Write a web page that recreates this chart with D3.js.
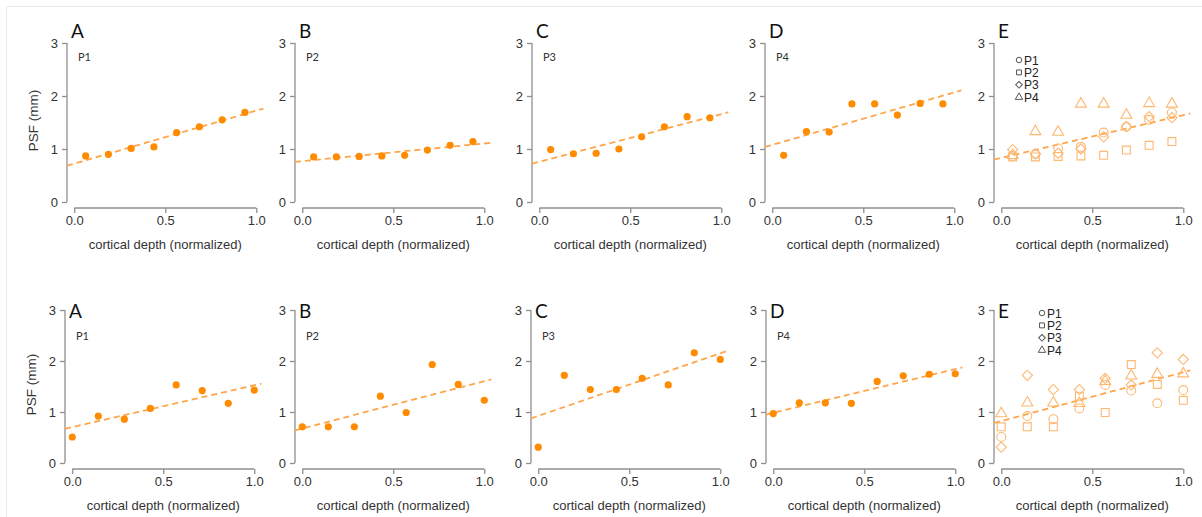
<!DOCTYPE html>
<html>
<head>
<meta charset="utf-8">
<script src="https://cdn.jsdelivr.net/npm/d3@7"></script>
<style>
  body { margin: 0; background: #fff; }
  svg { display: block; }
</style>
</head>
<body>
<div id="chart"></div>
<script>
// data
var panelLetters = ["A", "B", "C", "D", "E"];
var participants = ["P1", "P2", "P3", "P4"];

var depthTop = [0.0625, 0.1875, 0.3125, 0.4375, 0.5625, 0.6875, 0.8125, 0.9375];
var topP1 = [0.87, 0.90, 1.01, 1.04, 1.31, 1.42, 1.55, 1.69];
var topP2 = [0.85, 0.85, 0.86, 0.87, 0.88, 0.98, 1.07, 1.14];
var topP3 = [0.99, 0.91, 0.92, 1.00, 1.23, 1.42, 1.61, 1.59];
var topP4 = [0.88, 1.33, 1.32, 1.85, 1.85, 1.64, 1.86, 1.85];

var depthBottom = [0, 0.143, 0.286, 0.429, 0.571, 0.714, 0.857, 1.0];
var bottomP1 = [0.51, 0.92, 0.86, 1.07, 1.53, 1.42, 1.17, 1.43];
var bottomP2 = [0.71, 0.71, 0.71, 1.31, 0.99, 1.93, 1.54, 1.23];
var bottomP3 = [0.31, 1.72, 1.44, 1.44, 1.66, 1.53, 2.16, 2.03];
var bottomP4 = [0.97, 1.18, 1.18, 1.17, 1.60, 1.71, 1.74, 1.75];

var yTicks = [0, 1, 2, 3];
var xTicks = [0, 0.5, 1.0];

// layout
var W = 1202, H = 517;
var rows = [
  { depth: depthTop, series: [topP1, topP2, topP3, topP4],
    axisX: [67, 295, 532, 765, 994], yTop: 43, yZero: 202, xAxisY: 208,
    letterY: 38, pY: 61, legendX: 1019, legendY: 60 },
  { depth: depthBottom, series: [bottomP1, bottomP2, bottomP3, bottomP4],
    axisX: [65, 295, 531, 766, 994], yTop: 310, yZero: 463, xAxisY: 469,
    letterY: 318, pY: 340, legendX: 1042, legendY: 313 }
];
var plotW = 182;

var dotColor = "#ff8c00";
var lineColor = "#ffa54a";
var openColor = "#fdb872";
var axisColor = "#8f8f8f";
var textColor = "#333";

var svg = d3.select("#chart").append("svg")
  .attr("width", W)
  .attr("height", H);

svg.append("rect")
  .attr("width", W).attr("height", H)
  .attr("fill", "#fff");

svg.append("rect")
  .attr("x", 6.5).attr("y", 6.5)
  .attr("width", W + 20).attr("height", H + 20)
  .attr("fill", "none")
  .attr("stroke", "#ebebeb");

var shapes = [
  function(s) { return d3.symbol().type(d3.symbolCircle).size(s)(); },
  function(s) { return d3.symbol().type(d3.symbolSquare).size(s)(); },
  function(s) { return d3.symbol().type(d3.symbolSquare).size(s)(); },
  function(s) { return d3.symbol().type(d3.symbolTriangle).size(s)(); }
];
var shapeRot = [0, 0, 45, 0];
var shapeSize = [62, 62, 52, 52];
var legendSize = [24, 24, 22, 24];

function fit(xs, ys) {
  var mx = d3.mean(xs), my = d3.mean(ys);
  var sxy = 0, sxx = 0;
  xs.forEach(function(x, i) {
    sxy += (x - mx) * (ys[i] - my);
    sxx += (x - mx) * (x - mx);
  });
  var b = sxy / sxx;
  return { a: my - b * mx, b: b };
}

rows.forEach(function(row, r) {
  panelLetters.forEach(function(letter, c) {
    var ax = row.axisX[c];
    var x = d3.scaleLinear().domain([-0.04, 1.04]).range([ax, ax + plotW * 1.08]);
    var y = d3.scaleLinear().domain([0, 3]).range([row.yZero, row.yTop]);
    var g = svg.append("g");

    // y axis
    var yAxis = g.append("g")
      .attr("transform", "translate(" + ax + ",0)")
      .call(d3.axisLeft(y).tickValues(yTicks).tickSize(5).tickPadding(4).tickFormat(d3.format("d")));
    // x axis
    var xAxis = g.append("g")
      .attr("transform", "translate(0," + row.xAxisY + ")")
      .call(d3.axisBottom(x).tickValues(xTicks).tickSize(5).tickPadding(3).tickFormat(d3.format(".1f")));
    [yAxis, xAxis].forEach(function(a) {
      a.select(".domain").attr("stroke", axisColor).attr("stroke-width", 1.3);
      a.selectAll(".tick line").attr("stroke", axisColor).attr("stroke-width", 1.3);
      a.selectAll(".tick text")
        .attr("fill", textColor)
        .style("font-family", "Liberation Sans, Arial, sans-serif")
        .style("font-size", "13px");
    });
    // d3 draws the domain with outer ticks; redraw as plain lines like R
    yAxis.select(".domain").attr("d", "M0," + y(0) + "V" + y(3));
    xAxis.select(".domain").attr("d", "M" + x(0) + ",0H" + x(1));

    g.append("text")
      .attr("x", x(0.5))
      .attr("y", row.xAxisY + 41)
      .attr("text-anchor", "middle")
      .attr("fill", textColor)
      .style("font-family", "Liberation Sans, Arial, sans-serif")
      .style("font-size", "13px")
      .text("cortical depth (normalized)");

    if (c === 0) {
      g.append("text")
        .attr("transform", "translate(" + (ax - 29) + "," + ((y(0) + y(3)) / 2 - 2) + ") rotate(-90)")
        .attr("text-anchor", "middle")
        .attr("fill", textColor)
        .style("font-family", "Liberation Sans, Arial, sans-serif")
        .style("font-size", "13.5px")
        .text("PSF (mm)");
    }

    g.append("text")
      .attr("x", ax + 4)
      .attr("y", row.letterY)
      .attr("fill", "#111")
      .style("font-family", "Lato, Open Sans, sans-serif")
      .style("font-size", "19px")
      .text(letter);

    // clip for fit line
    var clipId = "clip" + r + c;
    svg.append("clipPath").attr("id", clipId)
      .append("rect")
      .attr("x", x(-0.04)).attr("y", y(3.12))
      .attr("width", x(1.04) - x(-0.04))
      .attr("height", y(-0.12) - y(3.12));

    var xs, ys, lf;
    if (c < 4) {
      g.append("text")
        .attr("x", ax + 11)
        .attr("y", row.pY)
        .attr("fill", textColor)
        .style("font-family", "Lato, Open Sans, sans-serif")
        .style("font-size", "11px")
        .text(participants[c]);
      xs = row.depth;
      ys = row.series[c];
    } else {
      xs = [];
      ys = [];
      row.series.forEach(function(s) {
        s.forEach(function(v, i) { xs.push(row.depth[i]); ys.push(v); });
      });
    }
    lf = fit(xs, ys);

    g.append("line")
      .attr("clip-path", "url(#" + clipId + ")")
      .attr("x1", x(-0.04)).attr("y1", y(lf.a + lf.b * -0.04))
      .attr("x2", x(1.04)).attr("y2", y(lf.a + lf.b * 1.04))
      .attr("stroke", lineColor)
      .attr("stroke-width", 1.8)
      .attr("stroke-dasharray", "6,4");

    if (c < 4) {
      g.selectAll("circle.pt")
        .data(row.series[c])
        .enter()
        .append("circle")
        .attr("class", "pt")
        .attr("cx", function(d, i) { return x(row.depth[i]); })
        .attr("cy", function(d) { return y(d); })
        .attr("r", 3.6)
        .attr("fill", dotColor);
    } else {
      row.series.forEach(function(s, k) {
        g.selectAll("path.s" + k)
          .data(s)
          .enter()
          .append("path")
          .attr("class", "s" + k)
          .attr("d", shapes[k](shapeSize[k]))
          .attr("transform", function(d, i) {
            return "translate(" + x(row.depth[i]) + "," + y(d) + ") rotate(" + shapeRot[k] + ")";
          })
          .attr("fill", "none")
          .attr("stroke", openColor)
          .attr("stroke-width", 1.1);
      });
      // legend
      participants.forEach(function(p, k) {
        var ly = row.legendY + k * 12.4;
        g.append("path")
          .attr("d", shapes[k](legendSize[k]))
          .attr("transform", "translate(" + row.legendX + "," + ly + ") rotate(" + shapeRot[k] + ")")
          .attr("fill", "none")
          .attr("stroke", "#555")
          .attr("stroke-width", 1);
        g.append("text")
          .attr("x", row.legendX + 5)
          .attr("y", ly + 4.5)
          .attr("fill", "#222")
          .style("font-family", "Liberation Sans, Arial, sans-serif")
          .style("font-size", "12px")
          .text(p);
      });
    }
  });
});
</script>
</body>
</html>
